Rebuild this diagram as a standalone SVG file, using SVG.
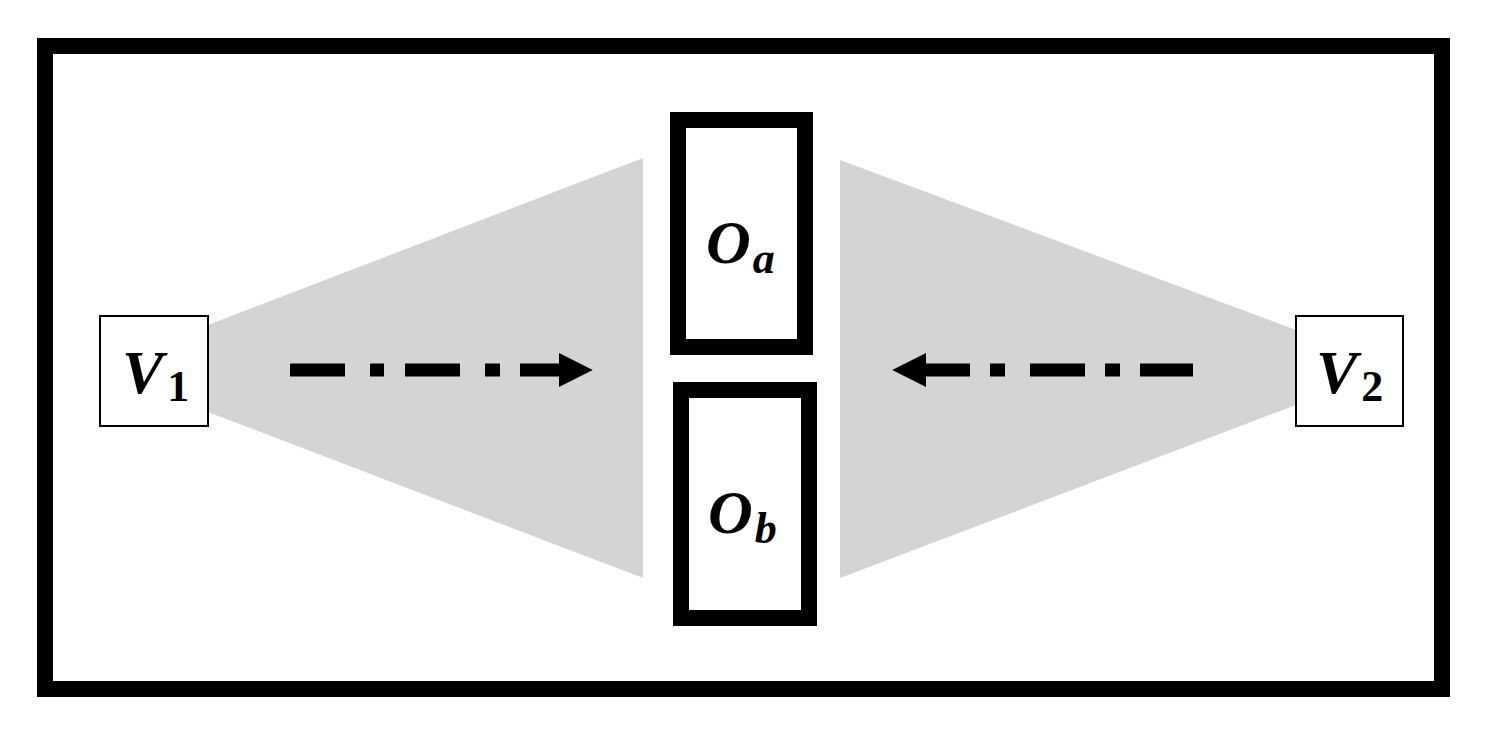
<svg xmlns="http://www.w3.org/2000/svg" width="1487" height="742" viewBox="0 0 1487 742">
<style>
.thick{fill:#fff;stroke:#000;stroke-width:16}
.thin{fill:#fff;stroke:#000;stroke-width:2}
.cone{fill:#d4d4d4}
.lbl{font-family:"Liberation Serif",serif;font-weight:bold;font-style:italic;font-size:62px;fill:#000}
.sub{font-style:normal;font-size:44px}
.dash{stroke:#000;stroke-width:13;fill:none}
</style>
<defs>
<marker id="ah" viewBox="0 0 10 10" refX="0" refY="5" markerWidth="3.6" markerHeight="2.6" markerUnits="strokeWidth" orient="auto"><path d="M0,0L10,5L0,10z" fill="#000"/></marker>
</defs>
<rect x="45" y="46" width="1397" height="643" class="thick"/>
<polygon class="cone" points="208,325 643,158 643,578 208,412"/>
<polygon class="cone" points="840,160 1296,330 1296,405 840,578"/>
<g id="V1"><rect x="100" y="316" width="108" height="110" class="thin"/><text x="122" y="393" class="lbl">V<tspan class="sub" dx="4" dy="8">1</tspan></text></g>
<g id="V2"><rect x="1296" y="316" width="107" height="110" class="thin"/><text x="1316" y="393" class="lbl">V<tspan class="sub" dx="4" dy="8">2</tspan></text></g>
<g id="Oa"><rect x="678" y="120" width="127" height="227" class="thick"/><text x="706" y="263" class="lbl">O<tspan class="sub" dx="2" dy="10" style="font-style:italic">a</tspan></text></g>
<g id="Ob"><rect x="681" y="390" width="128" height="228" class="thick"/><text x="708" y="533" class="lbl">O<tspan class="sub" dx="2" dy="10" style="font-style:italic">b</tspan></text></g>
<g id="connectors">
<path class="dash" d="M290,370H345M370,370H384M405,370H460M485,370H500M520,370H559" marker-end="url(#ah)"/>
<path class="dash" d="M1193,370H1140M1120,370H1105M1085,370H1030M1005,370H990M970,370H926" marker-end="url(#ah)"/>
</g>
</svg>
